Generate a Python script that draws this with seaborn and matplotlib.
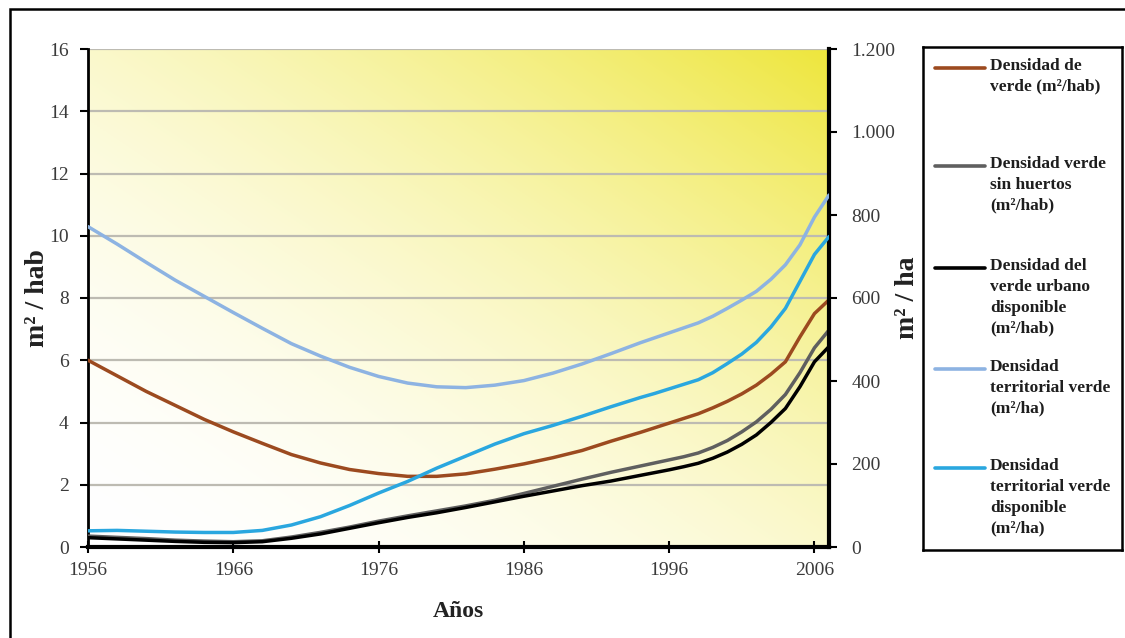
import numpy as np
import pandas as pd
import matplotlib
matplotlib.use("Agg")
import matplotlib.pyplot as plt
from matplotlib.lines import Line2D
from matplotlib.patches import Rectangle
import seaborn as sns

# ---- data -------------------------------------------------------------
years = [1956, 1958, 1960, 1962, 1964, 1966, 1968, 1970, 1972, 1974, 1976,
         1978, 1980, 1982, 1984, 1986, 1988, 1990, 1992, 1994, 1995, 1996,
         1997, 1998, 1999, 2000, 2001, 2002, 2003, 2004, 2005, 2006, 2007]

# m2 / hab (left axis)
verde_hab = [6.0, 5.5, 5.0, 4.55, 4.1, 3.7, 3.33, 2.97, 2.7, 2.49, 2.36,
             2.27, 2.27, 2.35, 2.5, 2.67, 2.87, 3.1, 3.4, 3.68, 3.83, 3.98,
             4.13, 4.28, 4.47, 4.68, 4.92, 5.2, 5.55, 5.95, 6.75, 7.5, 7.94]
verde_sin_huertos = [0.35, 0.31, 0.27, 0.22, 0.19, 0.17, 0.2, 0.32, 0.47, 0.64, 0.83,
                     1.0, 1.16, 1.32, 1.5, 1.72, 1.95, 2.18, 2.4, 2.6, 2.7, 2.8,
                     2.9, 3.02, 3.2, 3.42, 3.7, 4.02, 4.42, 4.9, 5.6, 6.4, 6.97]
verde_urbano_disp = [0.3, 0.26, 0.22, 0.18, 0.15, 0.14, 0.17, 0.28, 0.42, 0.6, 0.78,
                     0.95, 1.1, 1.27, 1.45, 1.63, 1.8, 1.97, 2.12, 2.3, 2.39, 2.48,
                     2.58, 2.69, 2.85, 3.05, 3.3, 3.6, 4.0, 4.45, 5.15, 5.95, 6.44]

# m2 / ha (right axis)
territorial = [772, 730, 686, 643, 604, 565, 527, 490, 460, 433, 411,
               395, 386, 384, 390, 401, 419, 441, 466, 492, 504, 516,
               528, 540, 556, 575, 595, 616, 645, 680, 728, 795, 848]
territorial_disp = [39, 40, 38, 36, 35, 35, 40, 53, 73, 100, 130,
                    158, 190, 219, 248, 273, 293, 315, 338, 360, 370, 381,
                    392, 403, 420, 442, 465, 493, 530, 575, 640, 705, 748]

labels = [
    "Densidad de\nverde (m²/hab)",
    "Densidad verde\nsin huertos\n(m²/hab)",
    "Densidad del\nverde urbano\ndisponible\n(m²/hab)",
    "Densidad\nterritorial verde\n(m²/ha)",
    "Densidad\nterritorial verde\ndisponible\n(m²/ha)",
]
colors = ["#9C4A1F", "#5F5F5F", "#000000", "#8DB3E2", "#2AA7DF"]

left_ticks = [0, 2, 4, 6, 8, 10, 12, 14, 16]
right_ticks = [0, 200, 400, 600, 800, 1000, 1200]
right_tick_labels = ["0", "200", "400", "600", "800", "1.000", "1.200"]
x_ticks = [1956, 1966, 1976, 1986, 1996, 2006]

df_left = pd.DataFrame({
    "year": years * 3,
    "value": verde_hab + verde_sin_huertos + verde_urbano_disp,
    "serie": [labels[0]] * len(years) + [labels[1]] * len(years) + [labels[2]] * len(years),
})
df_right = pd.DataFrame({
    "year": years * 2,
    "value": territorial + territorial_disp,
    "serie": [labels[3]] * len(years) + [labels[4]] * len(years),
})

# ---- style ------------------------------------------------------------
sns.set_theme(style="white")
plt.rcParams["font.family"] = ["Liberation Serif", "DejaVu Serif"]
text_col = "#3A3A3A"
label_col = "#222222"

fig = plt.figure(figsize=(11.25, 6.38), dpi=100)
ax = fig.add_axes([88 / 1125, 91 / 638, 741 / 1125, 498 / 638])
ax2 = ax.twinx()

# diagonal white-to-yellow background
n = 256
u = np.linspace(0, 1, n)
U, V = np.meshgrid(u, u)
t = np.clip((U + V) / 2, 0, 1) ** 1.9
white = np.array([1.0, 1.0, 1.0])
yellow = np.array([238, 230, 60]) / 255
grad = white[None, None, :] * (1 - t[..., None]) + yellow[None, None, :] * t[..., None]
ax.imshow(grad, extent=[1956, 2007, 0, 16], origin="lower", aspect="auto", zorder=0)

ax.set_axisbelow(True)
ax.yaxis.grid(True, color="#BDBBB2", linewidth=1.6)
ax.xaxis.grid(False)

sns.lineplot(data=df_left, x="year", y="value", hue="serie",
             palette=colors[:3], hue_order=labels[:3], linewidth=2.5,
             legend=False, ax=ax, zorder=3)
sns.lineplot(data=df_right, x="year", y="value", hue="serie",
             palette=colors[3:], hue_order=labels[3:], linewidth=2.5,
             legend=False, ax=ax2, zorder=3)

ax.set_xlim(1956, 2007)
ax.set_ylim(0, 16)
ax2.set_ylim(0, 1200)
ax.set_xticks(x_ticks)
ax.set_xticklabels([str(x) for x in x_ticks])
ax.set_yticks(left_ticks)
ax.set_yticklabels([str(v) for v in left_ticks])
ax2.set_yticks(right_ticks)
ax2.set_yticklabels(right_tick_labels)

for a in (ax, ax2):
    for s in a.spines.values():
        s.set_visible(False)
ax.spines["left"].set_visible(True)
ax.spines["left"].set_linewidth(2)
ax.spines["left"].set_color("black")
ax.spines["bottom"].set_visible(True)
ax.spines["bottom"].set_linewidth(3)
ax.spines["bottom"].set_color("black")
ax2.spines["right"].set_visible(True)
ax2.spines["right"].set_linewidth(3)
ax2.spines["right"].set_color("black")

ax.tick_params(axis="y", direction="out", length=6, width=1.5, color="black",
               labelsize=14, labelcolor=text_col, pad=8, left=True)
ax.tick_params(axis="x", direction="inout", length=9, width=1.5, color="black",
               labelsize=14, labelcolor=text_col, pad=6, bottom=True)
ax2.tick_params(axis="y", direction="out", length=6, width=1.5, color="black",
                labelsize=14, labelcolor=text_col, pad=10, right=True)

ax.set_xlabel("Años", fontsize=17, fontweight="bold", color=label_col, labelpad=16)
ax.set_ylabel("m² / hab", fontsize=20, fontweight="bold", color=label_col, labelpad=-1)
ax2.set_ylabel("m² / ha", fontsize=20, fontweight="bold", color=label_col, labelpad=0)

# ---- legend panel -------------------------------------------------------
lg = fig.add_axes([923 / 1125, 88 / 638, 199 / 1125, 503 / 638])
lg.set_xlim(0, 199)
lg.set_ylim(503, 0)
lg.set_xticks([])
lg.set_yticks([])
lg.set_facecolor("white")
for s in lg.spines.values():
    s.set_visible(True)
    s.set_color("black")
    s.set_linewidth(1.8)
entry_y = [21, 119, 221, 322, 421]
for yy, lab, col in zip(entry_y, labels, colors):
    lg.add_line(Line2D([12, 62], [yy, yy], color=col, linewidth=2.6))
    lg.text(67, yy - 10, lab, va="top", ha="left", fontsize=12.5,
            fontweight="bold", color="#1E1E1E", linespacing=1.4)

# outer frame of the figure
fig.patches.append(Rectangle((10 / 1125, -0.05), 1.2, 1.05 - 9 / 638,
                             transform=fig.transFigure, fill=False,
                             edgecolor="black", linewidth=1.8))

fig.savefig("out.png", dpi=100)
